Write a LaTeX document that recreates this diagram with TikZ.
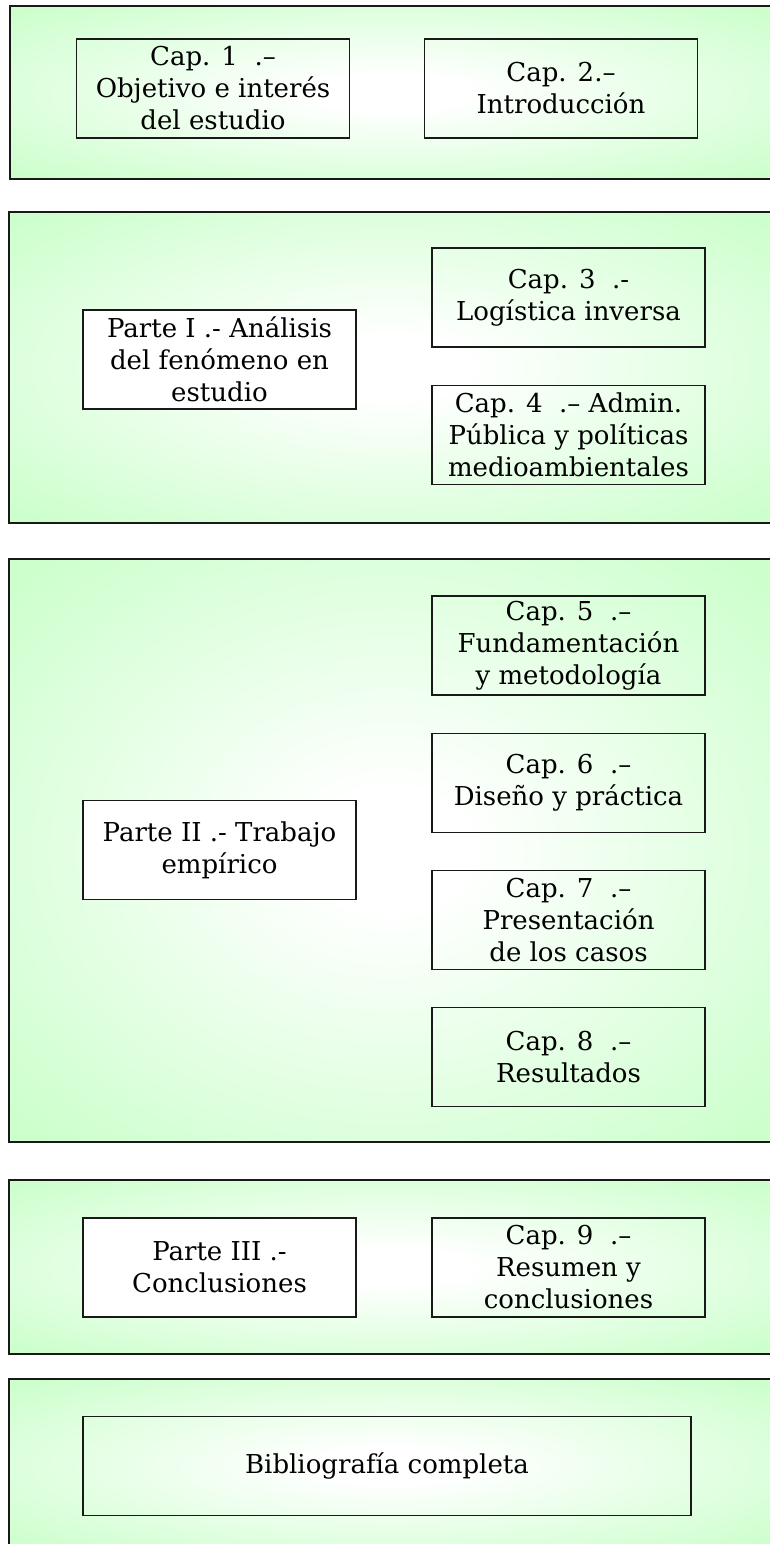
\documentclass[tikz,border=0pt]{standalone}
\usepackage{fontspec}
\setmainfont{DejaVu Serif}
\definecolor{paleg}{RGB}{204,255,204}
\pgfdeclareradialshading{glow}{\pgfpoint{0bp}{0bp}}{color(0bp)=(white); color(5bp)=(white); color(34bp)=(paleg); color(50bp)=(paleg)}
\begin{document}
\begin{tikzpicture}[x=0.75pt, y=-0.75pt, line width=1.1pt]
    \tikzstyle{secbox}=[draw=black!90, shading=glow]
    \tikzstyle{capbox}=[draw=black!90, align=center, minimum width=205pt, minimum height=74pt, inner sep=0pt]
    \tikzstyle{partbox}=[capbox, fill=white]
    \def\lx{219.5}
    \def\rx{568.5}
    
    \fontsize{19.5}{24}\selectfont
    
    \useasboundingbox (0,0) rectangle (769,1544);
    
    % bloques de fondo
    \path[secbox] (10,6) rectangle (772,179);
    \path[secbox] (9,212) rectangle (772,523);
    \path[secbox] (9,559) rectangle (772,1142);
    \path[secbox] (9,1180) rectangle (772,1354);
    \path[secbox] (9,1379) rectangle (772,1552);
    
    \node[capbox] (c1) at (213,88.5) {Cap. 1 \ .--\\Objetivo e interés\\del estudio};
    \node[capbox] (c2) at (561,88.5) {Cap. 2.--\\Introducción};
    
    \node[partbox] (p1) at (\lx,359.5) {Parte I .- Análisis\\del fenómeno en\\estudio};
    \node[capbox] (c3) at (\rx,297.5) {Cap. 3 \ .-\\Logística inversa};
    \node[capbox] (c4) at (\rx,435) {Cap. 4 \ .-- Admin.\\Pública y políticas\\medioambientales};
    
    \node[partbox] (p2) at (\lx,850) {Parte II .- Trabajo\\empírico};
    \node[capbox] (c5) at (\rx,645.5) {Cap. 5 \ .--\\Fundamentación\\y metodología};
    \node[capbox] (c6) at (\rx,783) {Cap. 6 \ .--\\Diseño y práctica};
    \node[capbox] (c7) at (\rx,920) {Cap. 7 \ .--\\Presentación\\de los casos};
    \node[capbox] (c8) at (\rx,1057) {Cap. 8 \ .--\\Resultados};
    
    \node[partbox] (p3) at (\lx,1267.5) {Parte III .-\\Conclusiones};
    \node[capbox] (c9) at (\rx,1267.5) {Cap. 9 \ .--\\Resumen y\\conclusiones};
    
    \node[capbox, minimum width=456pt] (bib) at (387,1466) {Bibliografía completa};
    
\end{tikzpicture}
\end{document}
